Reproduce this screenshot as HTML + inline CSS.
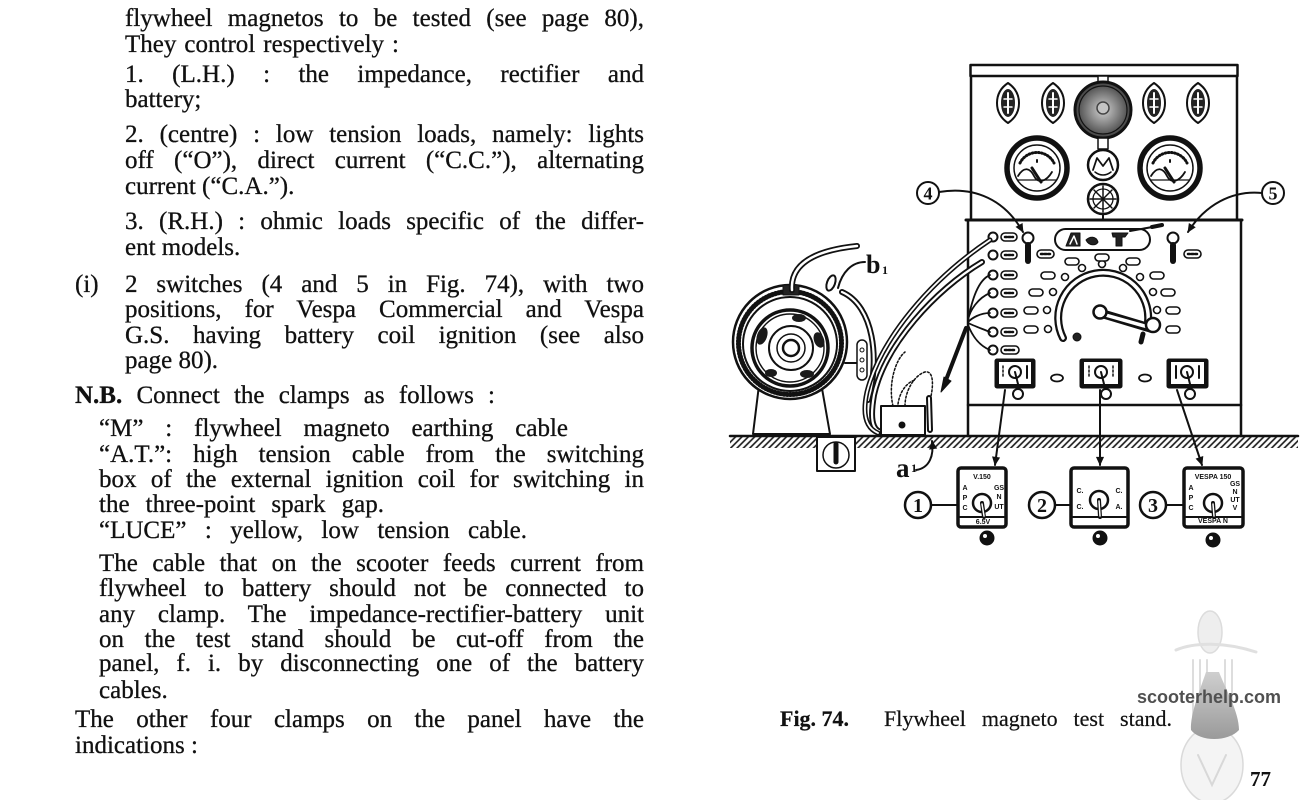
<!DOCTYPE html>
<html><head><meta charset="utf-8">
<style>
html,body{margin:0;padding:0;background:#fff;}
body{width:1300px;height:800px;position:relative;overflow:hidden;font-family:"Liberation Serif","DejaVu Serif",serif;color:#111;}
svg{position:absolute;left:0;top:0;}
.l{position:absolute;font-size:25px;line-height:26px;white-space:nowrap;-webkit-text-stroke:0.3px #111;}
.j{text-align:justify;text-align-last:justify;white-space:normal;}
.cap{position:absolute;font-size:22px;line-height:24px;white-space:nowrap;-webkit-text-stroke:0.2px #111;}
</style></head><body>

<svg width="1300" height="800" viewBox="0 0 1300 800">
<defs>
<pattern id="hatch" width="4.5" height="4.5" patternUnits="userSpaceOnUse" patternTransform="rotate(45)"><line x1="1" y1="0" x2="1" y2="4.5" stroke="#151515" stroke-width="1.6"/></pattern>
<marker id="ar" viewBox="0 0 10 10" refX="9" refY="5" markerWidth="11" markerHeight="9" orient="auto" markerUnits="userSpaceOnUse"><path d="M0,0.5 L10,5 L0,9.5 z" fill="#111"/></marker>
<radialGradient id="dialg" cx="0.5" cy="0.5" r="0.5"><stop offset="0" stop-color="#d0d0d0"/><stop offset="0.45" stop-color="#909090"/><stop offset="1" stop-color="#404040"/></radialGradient>
<linearGradient id="seat" x1="0" y1="0" x2="0" y2="1"><stop offset="0" stop-color="#cfcfcf"/><stop offset="1" stop-color="#9a9a9a"/></linearGradient>
</defs>

<!-- scooter watermark -->
<g stroke-linecap="round">
<ellipse cx="1210" cy="632" rx="12" ry="21" fill="#eeeeee" stroke="#dcdcdc" stroke-width="1.5"/>
<path d="M1176,650 C1195,642 1225,642 1256,652" stroke="#e0e0e0" stroke-width="3" fill="none"/>
<g stroke="#dddddd" stroke-width="2"><line x1="1193" y1="660" x2="1193" y2="730"/><line x1="1200" y1="660" x2="1200" y2="730"/><line x1="1207" y1="660" x2="1207" y2="730"/><line x1="1225" y1="660" x2="1225" y2="730"/><line x1="1232" y1="660" x2="1232" y2="730"/></g>
<ellipse cx="1212" cy="765" rx="31" ry="38" fill="#f4f4f4" stroke="#dadada" stroke-width="1.5"/>
<path d="M1198,755 L1212,785 L1226,755" fill="none" stroke="#d8d8d8" stroke-width="2"/>
<path d="M1206,672 C1200,690 1190,714 1191,730 C1200,742 1228,742 1239,730 C1239,712 1226,690 1219,672 Z" fill="url(#seat)"/>
</g>

<g stroke="#111" fill="none" stroke-linecap="round" stroke-linejoin="round">
<!-- ground -->
<rect x="730" y="437" width="568" height="11" fill="url(#hatch)" stroke="none"/>
<line x1="730" y1="436" x2="1298" y2="436" stroke-width="2.5"/>

<!-- cabinet -->
<rect x="970.5" y="65" width="267" height="11" stroke-width="2.5"/>
<line x1="971" y1="76" x2="971" y2="220" stroke-width="2.5"/>
<line x1="1237" y1="76" x2="1237" y2="220" stroke-width="2.5"/>
<line x1="966" y1="220" x2="1242" y2="220" stroke-width="3"/>
<line x1="968" y1="220" x2="968" y2="436" stroke-width="2.5"/>
<line x1="1241" y1="220" x2="1241" y2="436" stroke-width="2.5"/>
<line x1="968" y1="405" x2="1241" y2="405" stroke-width="2.5"/>

<!-- fuses -->
<g transform="translate(1008,103)"><path d="M0,-20 C9,-14 11,-6 11,0 C11,6 9,14 0,20 C-9,14 -11,6 -11,0 C-11,-6 -9,-14 0,-20 Z" fill="#fff" stroke-width="2"/><ellipse rx="7" ry="14" fill="#222" stroke="none"/><line x1="0" y1="-10" x2="0" y2="10" stroke="#fff" stroke-width="2"/><line x1="-4" y1="-4" x2="4" y2="-4" stroke="#fff" stroke-width="1.5"/><line x1="-4" y1="4" x2="4" y2="4" stroke="#fff" stroke-width="1.5"/></g>
<g transform="translate(1053,103)"><path d="M0,-20 C9,-14 11,-6 11,0 C11,6 9,14 0,20 C-9,14 -11,6 -11,0 C-11,-6 -9,-14 0,-20 Z" fill="#fff" stroke-width="2"/><ellipse rx="7" ry="14" fill="#222" stroke="none"/><line x1="0" y1="-10" x2="0" y2="10" stroke="#fff" stroke-width="2"/><line x1="-4" y1="-4" x2="4" y2="-4" stroke="#fff" stroke-width="1.5"/><line x1="-4" y1="4" x2="4" y2="4" stroke="#fff" stroke-width="1.5"/></g>
<g transform="translate(1154,103)"><path d="M0,-20 C9,-14 11,-6 11,0 C11,6 9,14 0,20 C-9,14 -11,6 -11,0 C-11,-6 -9,-14 0,-20 Z" fill="#fff" stroke-width="2"/><ellipse rx="7" ry="14" fill="#222" stroke="none"/><line x1="0" y1="-10" x2="0" y2="10" stroke="#fff" stroke-width="2"/><line x1="-4" y1="-4" x2="4" y2="-4" stroke="#fff" stroke-width="1.5"/><line x1="-4" y1="4" x2="4" y2="4" stroke="#fff" stroke-width="1.5"/></g>
<g transform="translate(1198,103)"><path d="M0,-20 C9,-14 11,-6 11,0 C11,6 9,14 0,20 C-9,14 -11,6 -11,0 C-11,-6 -9,-14 0,-20 Z" fill="#fff" stroke-width="2"/><ellipse rx="7" ry="14" fill="#222" stroke="none"/><line x1="0" y1="-10" x2="0" y2="10" stroke="#fff" stroke-width="2"/><line x1="-4" y1="-4" x2="4" y2="-4" stroke="#fff" stroke-width="1.5"/><line x1="-4" y1="4" x2="4" y2="4" stroke="#fff" stroke-width="1.5"/></g>

<!-- big dial -->
<rect x="1098" y="76" width="10" height="7" fill="#fff" stroke-width="1.5"/>
<circle cx="1103" cy="110" r="28" fill="url(#dialg)" stroke-width="3"/>
<circle cx="1103" cy="110" r="24" stroke-width="1.2"/>
<circle cx="1103" cy="108" r="6" stroke="#444" stroke-width="1.5" fill="#c4c4c4"/>
<rect x="1098" y="138" width="10" height="11" fill="#fff" stroke-width="1.5"/>
<!-- small gauges -->
<circle cx="1103" cy="165" r="15" fill="#fff" stroke-width="2.5"/>
<path d="M1093,170 L1097,158 L1103,166 L1109,158 L1113,170" stroke-width="1.8"/>
<path d="M1095,172 C1100,176 1106,176 1111,172" stroke-width="1.5"/>
<circle cx="1103" cy="199" r="15" fill="#fff" stroke-width="2.5"/>
<g stroke-width="1.5"><line x1="1103" y1="186" x2="1103" y2="212"/><line x1="1090" y1="199" x2="1116" y2="199"/><line x1="1094" y1="190" x2="1112" y2="208"/><line x1="1112" y1="190" x2="1094" y2="208"/></g>
<circle cx="1103" cy="199" r="10" stroke-width="1.3"/>
<line x1="1103" y1="214" x2="1103" y2="220" stroke-width="2"/>

<!-- meters -->
<circle cx="1037" cy="168" r="30" fill="#fff" stroke-width="5.5"/>
<circle cx="1037" cy="168" r="23" stroke-width="1.5"/>
<path d="M1020,163 A19,19 0 0 1 1054,163" stroke-width="3" stroke-dasharray="0.8 2.4"/>
<path d="M1018,176 C1024,166 1030,168 1034,176 C1038,184 1046,182 1052,172" stroke-width="1.8"/>
<path d="M1018,180 L1056,180" stroke-width="1.2"/>
<line x1="1032" y1="168" x2="1041" y2="182" stroke-width="3"/>
<line x1="1037" y1="160" x2="1037" y2="162" stroke-width="2"/>
<circle cx="1170" cy="168" r="30" fill="#fff" stroke-width="5.5"/>
<circle cx="1170" cy="168" r="23" stroke-width="1.5"/>
<path d="M1153,163 A19,19 0 0 1 1187,163" stroke-width="3" stroke-dasharray="0.8 2.4"/>
<path d="M1151,176 C1157,166 1163,168 1167,176 C1171,184 1179,182 1185,172" stroke-width="1.8"/>
<path d="M1151,180 L1189,180" stroke-width="1.2"/>
<line x1="1165" y1="168" x2="1174" y2="182" stroke-width="3"/>
<line x1="1170" y1="160" x2="1170" y2="162" stroke-width="2"/>

<!-- plate -->
<rect x="1055" y="229" width="95" height="21" rx="10.5" stroke-width="2" fill="#fff"/>
<path d="M1066,246 L1071,233 L1080,233 L1080,246 Z" fill="#222" stroke-width="1"/>
<path d="M1070,244 L1074,236 L1077,244" stroke="#fff" stroke-width="1.5"/>
<path d="M1086,240 C1090,236 1096,236 1098,242 C1096,246 1089,246 1086,240 Z" fill="#222" stroke-width="1"/>
<path d="M1112,233 L1128,233 L1125,237 L1122,237 L1122,246 L1116,246 L1116,237 L1113,237 Z" fill="#222" stroke-width="1"/>
<line x1="1130" y1="231" x2="1158" y2="226" stroke-width="2"/>
<line x1="1152" y1="227" x2="1162" y2="225" stroke-width="4"/>

<!-- toggles -->
<circle cx="1028" cy="238" r="5.5" fill="#fff" stroke-width="2"/>
<path d="M1028,245 L1028,261" stroke-width="6"/>
<rect x="1037" y="250" width="17" height="8" rx="4" fill="#fff" stroke-width="1.6"/>
<line x1="1041" y1="254" x2="1050" y2="254" stroke-width="2.5" stroke-dasharray="2 1.5"/>
<circle cx="1173" cy="238" r="5.5" fill="#fff" stroke-width="2"/>
<path d="M1173,245 L1173,261" stroke-width="6"/>
<rect x="1184" y="250" width="17" height="8" rx="4" fill="#fff" stroke-width="1.6"/>
<line x1="1188" y1="254" x2="1197" y2="254" stroke-width="2.5" stroke-dasharray="2 1.5"/>

<!-- terminals -->
<g stroke-width="1.6">
<circle cx="993" cy="237" r="4.5" fill="#fff" stroke-width="2"/><rect x="1001" y="233" width="16" height="8" rx="4" fill="#fff"/><line x1="1005" y1="237" x2="1013" y2="237" stroke-width="2.5" stroke-dasharray="2 1.5"/>
<circle cx="993" cy="255" r="4.5" fill="#fff" stroke-width="2"/><rect x="1001" y="251" width="16" height="8" rx="4" fill="#fff"/><line x1="1005" y1="255" x2="1013" y2="255" stroke-width="2.5" stroke-dasharray="2 1.5"/>
<circle cx="993" cy="275" r="4.5" fill="#fff" stroke-width="2"/><rect x="1001" y="271" width="16" height="8" rx="4" fill="#fff"/><line x1="1005" y1="275" x2="1013" y2="275" stroke-width="2.5" stroke-dasharray="2 1.5"/>
<circle cx="993" cy="293" r="4.5" fill="#fff" stroke-width="2"/><rect x="1001" y="289" width="16" height="8" rx="4" fill="#fff"/><line x1="1005" y1="293" x2="1013" y2="293" stroke-width="2.5" stroke-dasharray="2 1.5"/>
<circle cx="993" cy="313" r="4.5" fill="#fff" stroke-width="2"/><rect x="1001" y="309" width="16" height="8" rx="4" fill="#fff"/><line x1="1005" y1="313" x2="1013" y2="313" stroke-width="2.5" stroke-dasharray="2 1.5"/>
<circle cx="993" cy="332" r="4.5" fill="#fff" stroke-width="2"/><rect x="1001" y="328" width="16" height="8" rx="4" fill="#fff"/><line x1="1005" y1="332" x2="1013" y2="332" stroke-width="2.5" stroke-dasharray="2 1.5"/>
<circle cx="993" cy="350" r="4.5" fill="#fff" stroke-width="2"/><rect x="1001" y="346" width="18" height="8" rx="4" fill="#fff"/><line x1="1005" y1="350" x2="1015" y2="350" stroke-width="2.5" stroke-dasharray="2 1.5"/>
</g>

<!-- arc dots & labels -->
<g stroke-width="1.6" fill="#fff">
<circle cx="1082" cy="268" r="3.5"/><circle cx="1102" cy="264" r="3.5"/><circle cx="1123" cy="268" r="3.5"/>
<circle cx="1065" cy="277" r="3.5"/><circle cx="1140" cy="277" r="3.5"/>
<circle cx="1053" cy="292" r="3.5"/><circle cx="1153" cy="292" r="3.5"/>
<circle cx="1047" cy="310" r="3.5"/><circle cx="1157" cy="310" r="3.5"/>
<circle cx="1048" cy="329" r="3.5"/>
<rect x="1065" y="258" width="14" height="7" rx="3.5"/><rect x="1095" y="254" width="14" height="7" rx="3.5"/><rect x="1126" y="258" width="14" height="7" rx="3.5"/>
<rect x="1041" y="272" width="14" height="7" rx="3.5"/><rect x="1150" y="272" width="14" height="7" rx="3.5"/>
<rect x="1029" y="289" width="14" height="7" rx="3.5"/><rect x="1161" y="289" width="14" height="7" rx="3.5"/>
<rect x="1024" y="307" width="14" height="7" rx="3.5"/><rect x="1166" y="307" width="14" height="7" rx="3.5"/>
<rect x="1024" y="326" width="14" height="7" rx="3.5"/><rect x="1166" y="326" width="14" height="7" rx="3.5"/>
</g>
<!-- arc tube -->
<path d="M1063,338 A45,45 0 1 1 1148,322" stroke-width="8"/>
<path d="M1063,338 A45,45 0 1 1 1148,322" stroke="#fff" stroke-width="3.5"/>
<circle cx="1077" cy="337" r="4" fill="#222"/>
<!-- lever -->
<line x1="1100" y1="313" x2="1150" y2="328" stroke-width="9"/>
<line x1="1102" y1="314" x2="1148" y2="327" stroke="#fff" stroke-width="3.5"/>
<circle cx="1100" cy="312" r="6.5" fill="#fff" stroke-width="2.5"/>
<circle cx="1153" cy="325" r="7" fill="#fff" stroke-width="2.5"/>
<line x1="1143" y1="334" x2="1141" y2="342" stroke-width="5"/>

<!-- switch row -->
<rect x="995" y="359" width="40" height="29" rx="2" fill="#111"/><rect x="999" y="362" width="32" height="22" fill="#fff" stroke="none"/>
<circle cx="1015" cy="372" r="6" fill="#fff" stroke-width="2"/><line x1="1015" y1="372" x2="1018" y2="384" stroke-width="2"/>
<line x1="1003" y1="366" x2="1003" y2="378" stroke-width="1.5" stroke-dasharray="2 2"/><line x1="1027" y1="366" x2="1027" y2="378" stroke-width="2"/>
<circle cx="1018" cy="394" r="5" fill="#fff" stroke-width="2"/>
<rect x="1080" y="359" width="42" height="29" rx="2" fill="#111"/><rect x="1084" y="362" width="34" height="22" fill="#fff" stroke="none"/>
<circle cx="1101" cy="372" r="6" fill="#fff" stroke-width="2"/><line x1="1101" y1="372" x2="1104" y2="384" stroke-width="2"/>
<line x1="1089" y1="366" x2="1089" y2="378" stroke-width="1.5" stroke-dasharray="2 2"/><line x1="1113" y1="366" x2="1113" y2="378" stroke-width="1.5" stroke-dasharray="2 2"/>
<circle cx="1106" cy="394" r="5" fill="#fff" stroke-width="2"/>
<rect x="1167" y="359" width="41" height="29" rx="2" fill="#111"/><rect x="1171" y="362" width="33" height="22" fill="#fff" stroke="none"/>
<circle cx="1187" cy="372" r="6" fill="#fff" stroke-width="2"/><line x1="1187" y1="372" x2="1190" y2="384" stroke-width="2"/>
<line x1="1176" y1="366" x2="1176" y2="378" stroke-width="2"/><line x1="1199" y1="366" x2="1199" y2="378" stroke-width="2"/>
<circle cx="1190" cy="394" r="5" fill="#fff" stroke-width="2"/>
<ellipse cx="1057" cy="378" rx="6" ry="3.5" stroke-width="1.8"/>
<ellipse cx="1145" cy="378" rx="6" ry="3.5" stroke-width="1.8"/>

<!-- arrows to bottom boxes -->
<line x1="1005" y1="390" x2="995" y2="465" stroke-width="2" marker-end="url(#ar)"/>
<line x1="1100" y1="390" x2="1100" y2="465" stroke-width="2" marker-end="url(#ar)"/>
<line x1="1177" y1="390" x2="1202" y2="465" stroke-width="2" marker-end="url(#ar)"/>

<!-- (4) (5) -->
<path d="M939,192 C975,186 1005,200 1023,232" stroke-width="2" marker-end="url(#ar)"/>
<circle cx="928" cy="193" r="11" fill="#fff" stroke-width="2"/>
<path d="M1262,193 C1232,190 1205,205 1188,232" stroke-width="2" marker-end="url(#ar)"/>
<circle cx="1273" cy="193" r="11" fill="#fff" stroke-width="2"/>

<!-- flywheel -->
<path d="M760,377 L820,377 L830,434 L753,434 Z" fill="#fff" stroke-width="2"/>
<circle cx="790" cy="342" r="57" fill="#fff" stroke-width="2.5"/>
<circle cx="790" cy="344" r="47" stroke-width="2"/>
<circle cx="790" cy="343" r="51.5" stroke-width="5" stroke-dasharray="0.9 2.3"/>
<circle cx="790" cy="348" r="38" fill="#fff" stroke-width="3.5"/>
<circle cx="790" cy="348" r="34" stroke-width="1.4"/>
<g fill="#1a1a1a" stroke="none">
<ellipse cx="762" cy="336" rx="5" ry="9" transform="rotate(20 762 336)"/>
<ellipse cx="819" cy="340" rx="5" ry="8" transform="rotate(-20 819 340)"/>
<ellipse cx="807" cy="374" rx="7" ry="4"/>
<ellipse cx="771" cy="373" rx="6" ry="4"/>
<ellipse cx="799" cy="318" rx="7" ry="4"/>
</g>
<circle cx="791" cy="348" r="22" stroke-width="2"/>
<circle cx="791" cy="348" r="14" stroke-width="1.5"/>
<circle cx="791" cy="348" r="8" stroke-width="2.5"/>
<rect x="783" y="285" width="16" height="10" fill="#222"/>
<path d="M792,290 C790,262 818,250 857,246" stroke-width="6"/>
<path d="M792,290 C790,262 818,250 857,246" stroke="#fff" stroke-width="2.5"/>
<ellipse cx="831" cy="283" rx="4" ry="8" transform="rotate(20 831 283)" fill="#fff" stroke-width="2"/>
<path d="M842,292 C874,306 880,360 868,400" stroke-width="6"/>
<path d="M842,292 C874,306 880,360 868,400" stroke="#fff" stroke-width="2.2"/>
<line x1="845" y1="363" x2="857" y2="363" stroke-width="2"/>
<rect x="857" y="340" width="10" height="40" rx="5" fill="#fff" stroke-width="1.5"/>
<circle cx="862" cy="350" r="2" stroke-width="1"/><circle cx="862" cy="360" r="2" stroke-width="1"/><circle cx="862" cy="370" r="2" stroke-width="1"/>

<!-- gauge under ground -->
<rect x="817" y="437" width="38" height="34" fill="#fff" stroke-width="2"/>
<circle cx="836" cy="455" r="13" stroke-width="1.5"/>
<path d="M836,444 L836,462" stroke-width="5"/>

<!-- cables -->
<path d="M982,262 C935,290 885,345 874,395 C870,418 872,430 881,432" stroke-width="6"/>
<path d="M982,262 C935,290 885,345 874,395 C870,418 872,430 881,432" stroke="#fff" stroke-width="2.2"/>
<path d="M990,240 C930,280 880,340 867,392 C862,415 866,428 878,433" stroke-width="5"/>
<path d="M990,240 C930,280 880,340 867,392 C862,415 866,428 878,433" stroke="#fff" stroke-width="1.8"/>
<g stroke-width="1.8">
<path d="M990,275 C978,280 972,300 968,320"/><path d="M990,293 C978,298 970,310 968,320"/>
<path d="M990,313 C980,313 972,318 968,322"/><path d="M990,332 C980,328 972,325 968,323"/>
<path d="M990,350 C978,345 972,335 968,325"/>
</g>
<line x1="966" y1="328" x2="946" y2="380" stroke-width="4"/>
<path d="M944,377 L941,392 L951,381 Z" fill="#111" stroke-width="1"/>
<path d="M893,406 C888,385 895,360 905,352" stroke-dasharray="2 2" stroke-width="1.5"/>
<path d="M905,406 C905,390 915,375 925,372 C935,370 933,390 930,400" stroke-dasharray="2 2" stroke-width="1.5"/>
<path d="M898,404 C900,390 908,382 915,380" stroke-dasharray="2 2" stroke-width="1.5"/>

<!-- box -->
<rect x="881" y="406" width="44" height="29" fill="#fff" stroke-width="2"/>
<circle cx="902" cy="425" r="3" fill="#111"/>
<path d="M929,398 L930,430" stroke-width="6"/>
<path d="M929,398 L930,430" stroke="#fff" stroke-width="2"/>

<!-- b1 / a1 leaders -->
<path d="M865,262 C852,262 842,272 838,288" stroke-width="2"/>
<path d="M916,470 C930,468 934,455 932,441" stroke-width="2" marker-end="url(#ar)"/>

<!-- bottom boxes -->
<rect x="958" y="468" width="48" height="59" rx="3" fill="#fff" stroke-width="3.5"/>
<line x1="960" y1="517" x2="1004" y2="517" stroke-width="2"/>
<circle cx="982" cy="503" r="9" fill="#fff" stroke-width="2.5"/>
<line x1="982" y1="503" x2="984" y2="517" stroke-width="4"/><line x1="982" y1="504" x2="984" y2="516" stroke="#fff" stroke-width="1.5"/>
<circle cx="987" cy="538" r="7" fill="#111"/><circle cx="985" cy="536" r="2" fill="#fff" stroke="none"/>

<rect x="1071" y="468" width="57" height="59" rx="3" fill="#fff" stroke-width="3.5"/>
<line x1="1073" y1="517" x2="1126" y2="517" stroke-width="2"/>
<circle cx="1099" cy="500" r="9" fill="#fff" stroke-width="2.5"/>
<line x1="1099" y1="500" x2="1100" y2="517" stroke-width="4"/><line x1="1099" y1="501" x2="1100" y2="516" stroke="#fff" stroke-width="1.5"/>
<circle cx="1100" cy="538" r="7" fill="#111"/><circle cx="1098" cy="536" r="2" fill="#fff" stroke="none"/>

<rect x="1184" y="468" width="59" height="59" rx="3" fill="#fff" stroke-width="3.5"/>
<line x1="1186" y1="517" x2="1241" y2="517" stroke-width="2"/>
<circle cx="1213" cy="503" r="9" fill="#fff" stroke-width="2.5"/>
<line x1="1213" y1="503" x2="1214" y2="517" stroke-width="4"/><line x1="1213" y1="504" x2="1214" y2="516" stroke="#fff" stroke-width="1.5"/>
<circle cx="1213" cy="540" r="7" fill="#111"/><circle cx="1211" cy="538" r="2" fill="#fff" stroke="none"/>

<line x1="931" y1="505" x2="958" y2="505" stroke-width="2"/>
<circle cx="918" cy="505" r="13" fill="#fff" stroke-width="2.5"/>
<line x1="1055" y1="505" x2="1071" y2="505" stroke-width="2"/>
<circle cx="1042" cy="505" r="13" fill="#fff" stroke-width="2.5"/>
<line x1="1166" y1="505" x2="1184" y2="505" stroke-width="2"/>
<circle cx="1153" cy="505" r="13" fill="#fff" stroke-width="2.5"/>
</g>

<!-- SVG text labels -->
<g fill="#111" font-family="Liberation Serif, serif" font-weight="bold" text-anchor="middle">
<text x="928" y="199.5" font-size="18">4</text>
<text x="1273" y="199.5" font-size="18">5</text>
<text x="918" y="512" font-size="20">1</text>
<text x="1042" y="512" font-size="20">2</text>
<text x="1153" y="512" font-size="20">3</text>
</g>
<g fill="#111" font-family="Liberation Serif, serif" font-weight="bold">
<text x="866" y="273" font-size="26">b</text><text x="882" y="274" font-size="12">1</text>
<text x="896" y="477" font-size="27">a</text><text x="911" y="472" font-size="12">1</text>
</g>
<g fill="#111" font-family="Liberation Sans, sans-serif" font-weight="bold" font-size="7" text-anchor="middle">
<text x="982" y="479">V.150</text>
<text x="965" y="490">A</text><text x="965" y="500">P</text><text x="965" y="510">C</text>
<text x="999" y="490">GS</text><text x="999" y="499">N</text><text x="999" y="509">UT</text>
<text x="983" y="524">6.5V</text>
<text x="1080" y="493">C.</text><text x="1080" y="509">C.</text>
<text x="1119" y="493">C.</text><text x="1119" y="509">A.</text>
<text x="1213" y="479">VESPA 150</text>
<text x="1191" y="490">A</text><text x="1191" y="500">P</text><text x="1191" y="510">C</text>
<text x="1235" y="486">GS</text><text x="1235" y="494">N</text><text x="1235" y="502">UT</text><text x="1235" y="510">V</text>
<text x="1213" y="523">VESPA N</text>
</g>
</svg>

<!-- left column text -->
<div class="l j" style="left:125px;top:6px;width:519px;">flywheel magnetos to be tested (see page 80),</div>
<div class="l j" style="left:125px;top:32px;width:274px;">They control respectively :</div>
<div class="l j" style="left:125px;top:62px;width:519px;">1. (L.H.) : the impedance, rectifier and</div>
<div class="l" style="left:125px;top:87px;">battery;</div>
<div class="l j" style="left:125px;top:122px;width:519px;">2. (centre) : low tension loads, namely: lights</div>
<div class="l j" style="left:125px;top:148px;width:519px;">off (“O”), direct current (“C.C.”), alternating</div>
<div class="l" style="left:125px;top:174px;">current (“C.A.”).</div>
<div class="l j" style="left:125px;top:209px;width:519px;">3. (R.H.) : ohmic loads specific of the differ-</div>
<div class="l" style="left:125px;top:235px;">ent models.</div>
<div class="l" style="left:75px;top:272px;">(i)</div>
<div class="l j" style="left:125px;top:272px;width:519px;">2 switches (4 and 5 in Fig. 74), with two</div>
<div class="l j" style="left:125px;top:297px;width:519px;">positions, for Vespa Commercial and Vespa</div>
<div class="l j" style="left:125px;top:323px;width:519px;">G.S. having battery coil ignition (see also</div>
<div class="l" style="left:125px;top:348px;">page 80).</div>
<div class="l j" style="left:75px;top:383px;width:420px;"><b>N.B.</b> Connect the clamps as follows :</div>
<div class="l j" style="left:99px;top:416px;width:469px;">“M” : flywheel magneto earthing cable</div>
<div class="l j" style="left:99px;top:442px;width:545px;">“A.T.”: high tension cable from the switching</div>
<div class="l j" style="left:99px;top:467px;width:545px;">box of the external ignition coil for switching in</div>
<div class="l j" style="left:99px;top:492px;width:285px;">the three-point spark gap.</div>
<div class="l j" style="left:99px;top:518px;width:428px;">“LUCE” : yellow, low tension cable.</div>
<div class="l j" style="left:99px;top:551px;width:545px;">The cable that on the scooter feeds current from</div>
<div class="l j" style="left:99px;top:576px;width:545px;">flywheel to battery should not be connected to</div>
<div class="l j" style="left:99px;top:602px;width:545px;">any clamp. The impedance-rectifier-battery unit</div>
<div class="l j" style="left:99px;top:627px;width:545px;">on the test stand should be cut-off from the</div>
<div class="l j" style="left:99px;top:651px;width:545px;">panel, f. i. by disconnecting one of the battery</div>
<div class="l" style="left:99px;top:678px;">cables.</div>
<div class="l j" style="left:75px;top:707px;width:569px;">The other four clamps on the panel have the</div>
<div class="l" style="left:75px;top:733px;">indications :</div>

<!-- caption -->
<div class="cap" style="left:780px;top:707px;font-weight:bold;">Fig. 74.</div>
<div class="cap" style="left:884px;top:707px;width:288px;text-align:justify;text-align-last:justify;white-space:normal;">Flywheel magneto test stand.</div>
<div style="position:absolute;left:1137px;top:687px;font-family:'Liberation Sans',Arial,sans-serif;font-weight:bold;font-size:18px;line-height:20px;color:#505050;white-space:nowrap;">scooterhelp.com</div>
<div style="position:absolute;left:1250px;top:767px;font-size:21px;line-height:24px;font-weight:bold;">77</div>

</body></html>
